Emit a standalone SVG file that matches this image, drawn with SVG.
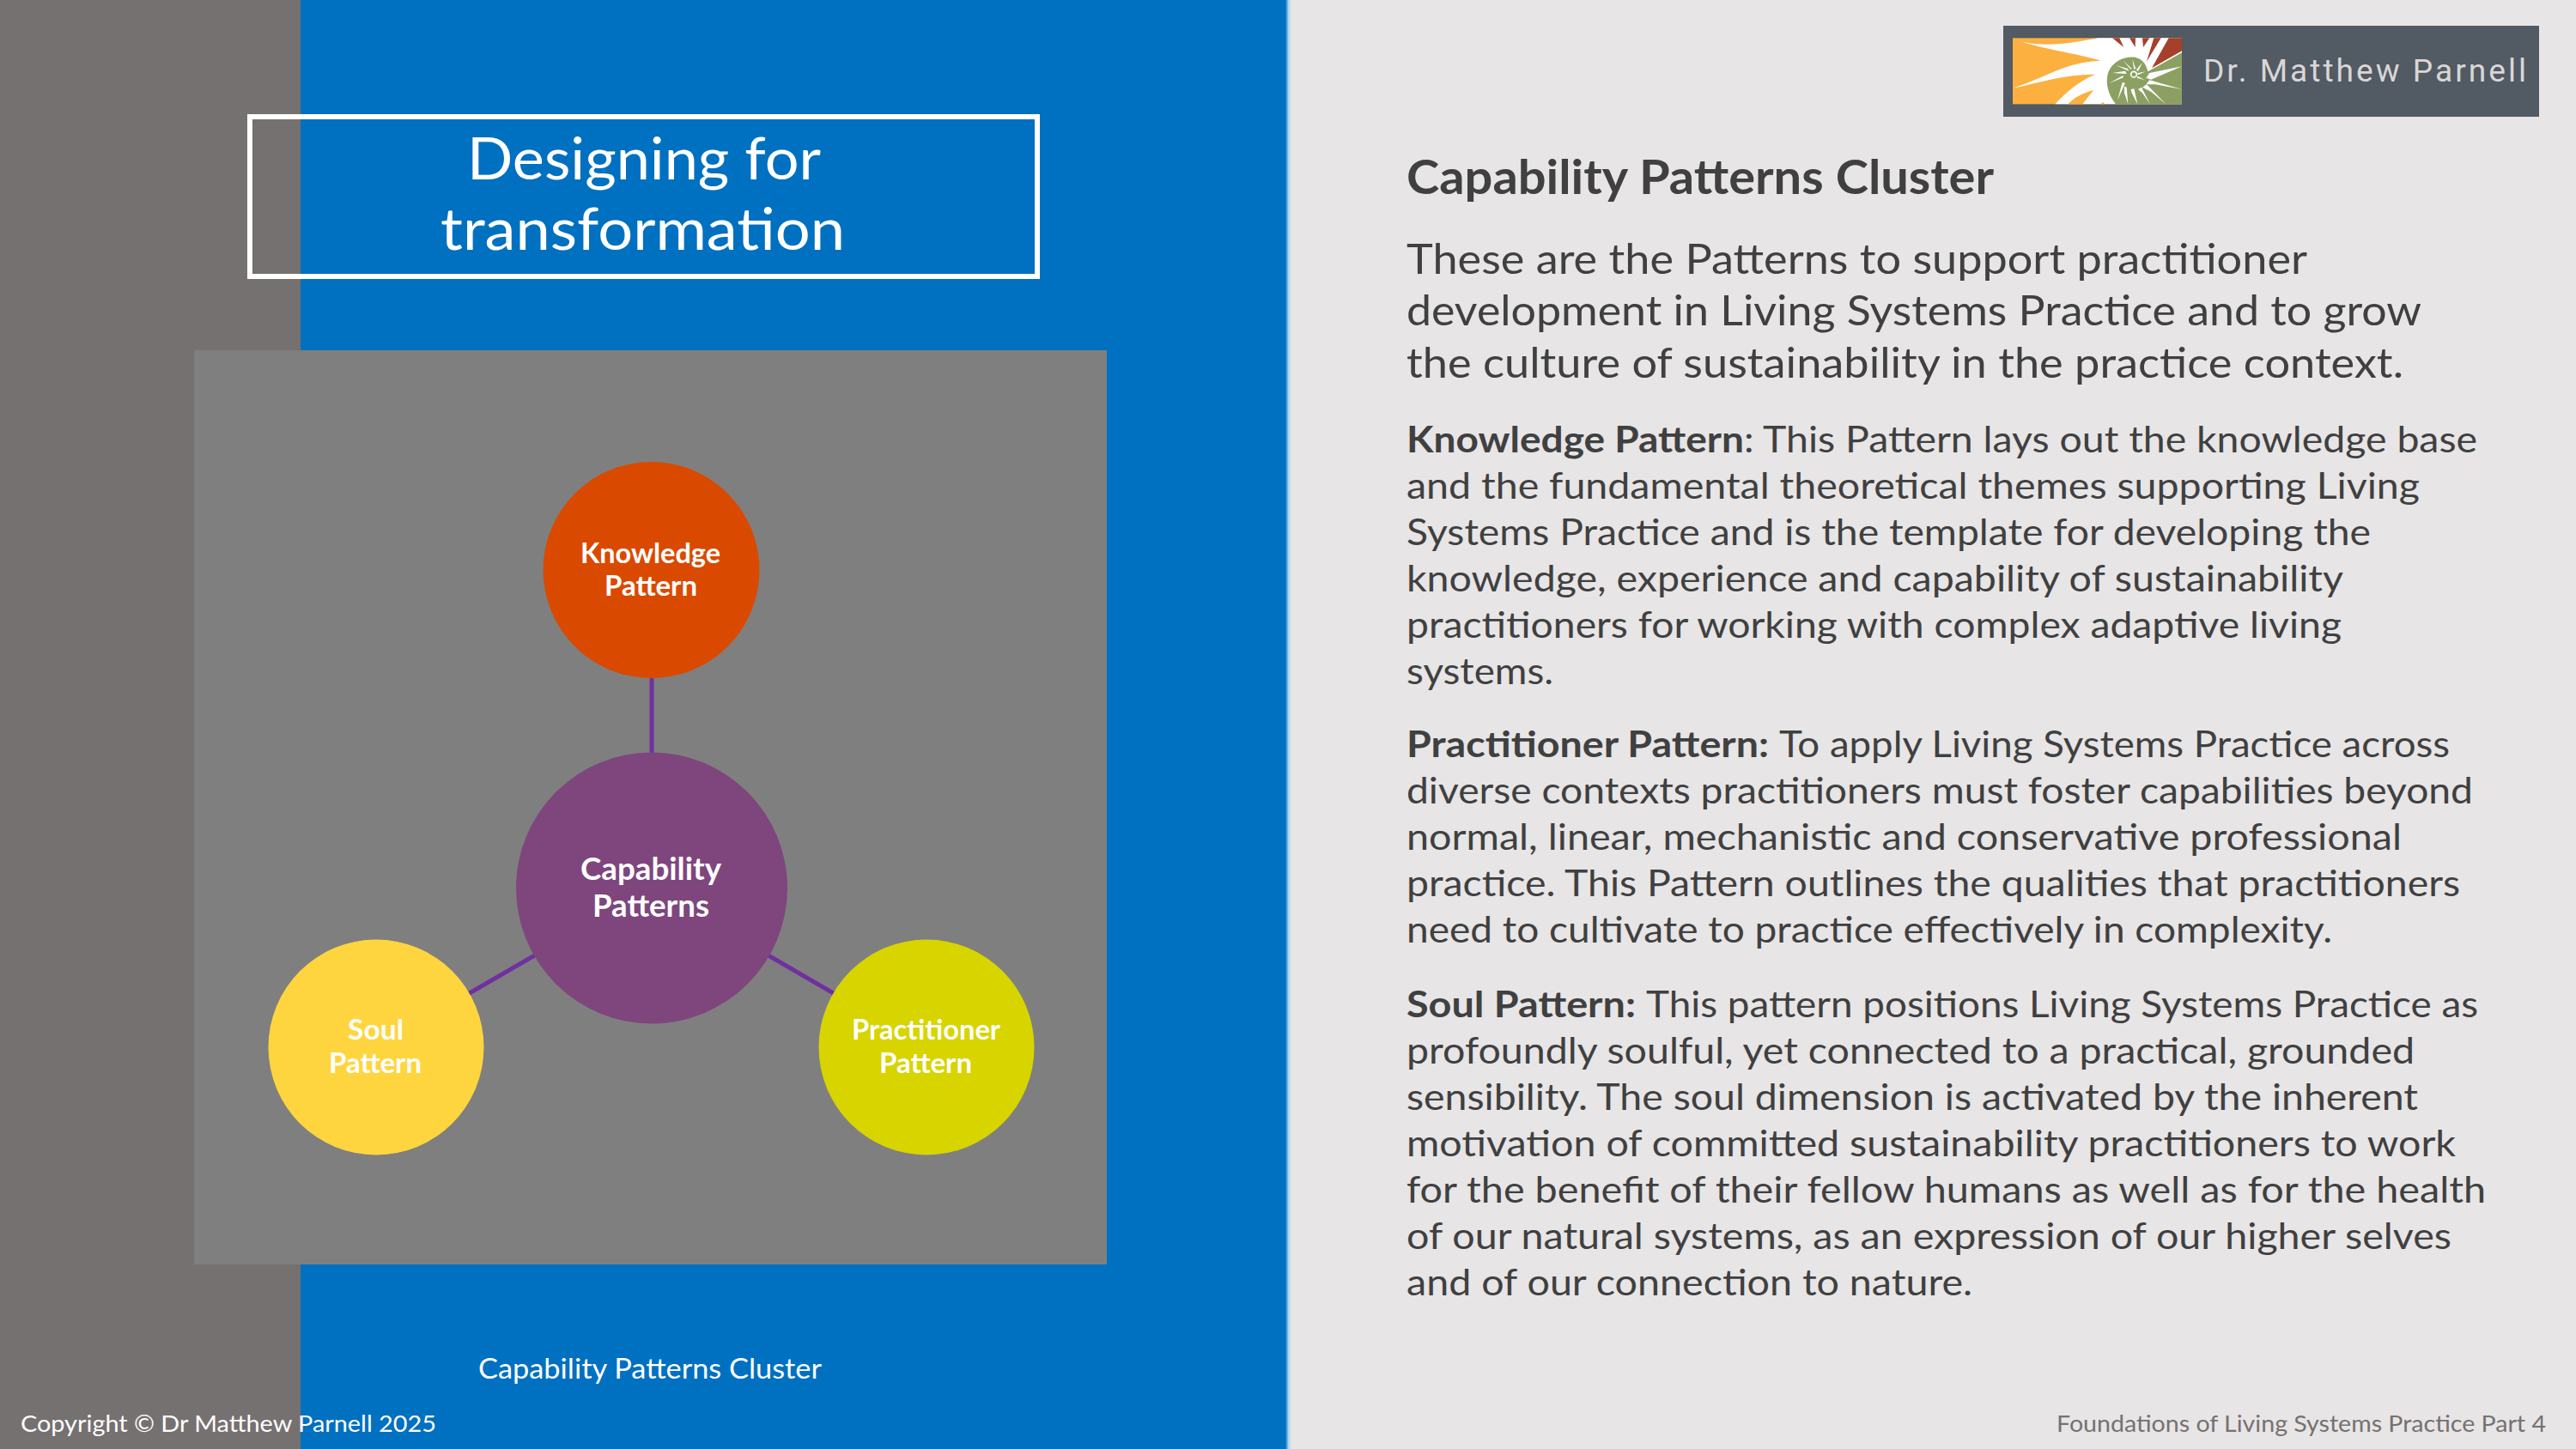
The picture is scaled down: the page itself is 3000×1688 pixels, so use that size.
<svg xmlns="http://www.w3.org/2000/svg" width="3000" height="1688" viewBox="0 0 3000 1688">
<style>
text{font-family:Lato,"Carlito","Open Sans",sans-serif;}
.w{fill:#fff}
.b{fill:#404040;font-size:42px}
.p{fill:#404040;font-size:48px}
.bd{font-weight:700}
.nl{fill:#fff;font-weight:700;font-size:33px}
.nc{fill:#fff;font-weight:700;font-size:36px}
.ft{font-size:27.500px}
.conn{stroke:#7030A0;stroke-width:5;fill:none}
</style>
<defs>
<linearGradient id="edge" x1="0" x2="1" y1="0" y2="0">
<stop offset="0" stop-color="#0070C0"/>
<stop offset=".5" stop-color="#A9D2EE"/>
<stop offset="1" stop-color="#E7E5E6"/>
</linearGradient>
</defs>
<g id="background">
<rect width="3000" height="1688" fill="#E7E5E6"/>
<rect x="350" width="1147" height="1688" fill="#0070C0"/>
<rect x="1497" width="7" height="1688" fill="url(#edge)"/>
<rect width="350" height="1688" fill="#767171"/>
</g>
<g id="title">
<rect x="291" y="136" width="917" height="186" fill="none" stroke="#fff" stroke-width="6"/>
<text class="w" x="544" y="209" font-size="68" textLength="412" lengthAdjust="spacingAndGlyphs">Designing for</text>
<text class="w" x="513" y="291" font-size="68" textLength="471" lengthAdjust="spacingAndGlyphs">transformation</text>
</g>
<rect id="panel" x="226" y="408" width="1063" height="1065" fill="#7F7F7F"/>
<g id="connectors">
<line class="conn" x1="759" y1="1034" x2="759" y2="664"/>
<line class="conn" x1="759" y1="1034" x2="438" y2="1220"/>
<line class="conn" x1="759" y1="1034" x2="1079" y2="1220"/>
</g>
<g id="node-knowledge">
<circle cx="758.500" cy="664" r="126" fill="#D94A00"/>
<text class="nl" x="676" y="656" textLength="163" lengthAdjust="spacingAndGlyphs">Knowledge</text>
<text class="nl" x="704" y="694" textLength="108" lengthAdjust="spacingAndGlyphs">Pattern</text>
</g>
<g id="node-capability">
<circle cx="759" cy="1034.500" r="158" fill="#7E467D"/>
<text class="nc" x="676" y="1025" textLength="164" lengthAdjust="spacingAndGlyphs">Capability</text>
<text class="nc" x="690" y="1068" textLength="136" lengthAdjust="spacingAndGlyphs">Patterns</text>
</g>
<g id="node-soul">
<circle cx="438" cy="1220" r="125.500" fill="#FFD53F"/>
<text class="nl" x="405" y="1211" textLength="65" lengthAdjust="spacingAndGlyphs">Soul</text>
<text class="nl" x="383" y="1250" textLength="108" lengthAdjust="spacingAndGlyphs">Pattern</text>
</g>
<g id="node-practitioner">
<circle cx="1079" cy="1220" r="125.500" fill="#D7D400"/>
<text class="nl" x="992" y="1211" textLength="173" lengthAdjust="spacingAndGlyphs">Practitioner</text>
<text class="nl" x="1024" y="1250" textLength="108" lengthAdjust="spacingAndGlyphs">Pattern</text>
</g>
<text class="w" x="557" y="1606" font-size="33" textLength="400" lengthAdjust="spacingAndGlyphs">Capability Patterns Cluster</text>
<text class="w ft" x="24" y="1668" textLength="484" lengthAdjust="spacingAndGlyphs">Copyright © Dr Matthew Parnell 2025</text>
<text class="ft" fill="#757171" x="2395" y="1668" textLength="570" lengthAdjust="spacingAndGlyphs">Foundations of Living Systems Practice Part 4</text>

<g id="logo">
<rect x="2333" y="30" width="624" height="106" fill="#525A63"/>
<g transform="translate(2340 40) scale(.33333)">
<rect x="12" y="13" width="591" height="231" fill="#FBB040"/>
<path fill="#fff" d="M25 18C100 50 230 30 310 13L603 13L603 244L160 244C200 200 250 160 300 140C200 138 100 170 12 188C130 150 200 95 320 92C230 65 100 50 25 18Z"/>
<path fill="#FBB040" d="M205 244C225 222 255 205 295 195C280 212 268 228 257 244ZM320 244L328 236L332 244Z"/>
<path fill="#A5402B" d="M360 13L400 45L385 13ZM420 13L440 45L441 13ZM465 13L468 45L490 13ZM505 13L530 13L480 95ZM557 13L603 13L603 58L498 118Z"/>
<path fill="#8DA063" d="M603 64L603 244L372 244C345 210 335 170 345 135C360 95 400 75 440 80C470 88 480 110 484 130L520 110Z"/>
<g fill="#fff">
<path d="M603 112L490 135L478 152L495 158Z"/>
<path d="M603 192L490 160L478 175L510 175Z"/>
<path d="M547 244L480 175L465 185L495 200Z"/>
<path d="M492 244L462 185L450 192L465 205Z"/>
<path d="M448 244L436 190L425 192L428 205Z"/>
<path d="M415 244L410 185L402 182L402 205Z"/>
<path d="M378 230L405 170L395 168Z"/>
<path d="M347 172L400 150L396 145Z"/>
<path d="M360 135L410 138L405 128Z"/>
<path d="M372 108L418 128L414 120Z"/>
<path d="M398 92L428 120L424 122Z"/>
<path d="M430 88L436 122L442 120Z"/>
<path d="M465 98L444 124L450 130Z"/>
<path d="M476 130L448 136L450 142Z"/>
<path d="M474 160L448 146L446 152Z"/>
</g>
<circle cx="435" cy="140" r="10" fill="none" stroke="#fff" stroke-width="5"/>
<circle cx="437" cy="141" r="4" fill="#8DA063"/>
</g>
<text x="2566" y="95" font-size="37" fill="#D9D6D6" letter-spacing="3" textLength="379" lengthAdjust="spacingAndGlyphs" style="font-family:Roboto,sans-serif">Dr. Matthew Parnell</text>
</g>

<g id="content">
<text class="bd" fill="#404040" font-size="56" x="1638" y="226" textLength="684" lengthAdjust="spacingAndGlyphs">Capability Patterns Cluster</text>
<text class="p" x="1638" y="319" textLength="1049" lengthAdjust="spacingAndGlyphs">These are the Patterns to support practitioner</text>
<text class="p" x="1638" y="379" textLength="1182" lengthAdjust="spacingAndGlyphs">development in Living Systems Practice and to grow</text>
<text class="p" x="1638" y="440" textLength="1161" lengthAdjust="spacingAndGlyphs">the culture of sustainability in the practice context.</text>

<text class="b bd" x="1638" y="527" textLength="393" lengthAdjust="spacingAndGlyphs">Knowledge Pattern</text>
<text class="b" x="2031" y="527" textLength="854" lengthAdjust="spacingAndGlyphs">: This Pattern lays out the knowledge base</text>
<text class="b" x="1638" y="581" textLength="1180" lengthAdjust="spacingAndGlyphs">and the fundamental theoretical themes supporting Living</text>
<text class="b" x="1638" y="635" textLength="1123" lengthAdjust="spacingAndGlyphs">Systems Practice and is the template for developing the</text>
<text class="b" x="1638" y="689" textLength="1091" lengthAdjust="spacingAndGlyphs">knowledge, experience and capability of sustainability</text>
<text class="b" x="1638" y="743" textLength="1089" lengthAdjust="spacingAndGlyphs">practitioners for working with complex adaptive living</text>
<text class="b" x="1638" y="797" textLength="171" lengthAdjust="spacingAndGlyphs">systems.</text>

<text class="b bd" x="1638" y="882" textLength="422" lengthAdjust="spacingAndGlyphs">Practitioner Pattern:</text>
<text class="b" x="2072" y="882" textLength="781" lengthAdjust="spacingAndGlyphs">To apply Living Systems Practice across</text>
<text class="b" x="1638" y="936" textLength="1242" lengthAdjust="spacingAndGlyphs">diverse contexts practitioners must foster capabilities beyond</text>
<text class="b" x="1638" y="990" textLength="1159" lengthAdjust="spacingAndGlyphs">normal, linear, mechanistic and conservative professional</text>
<text class="b" x="1638" y="1044" textLength="1227" lengthAdjust="spacingAndGlyphs">practice. This Pattern outlines the qualities that practitioners</text>
<text class="b" x="1638" y="1098" textLength="1078" lengthAdjust="spacingAndGlyphs">need to cultivate to practice effectively in complexity.</text>

<text class="b bd" x="1638" y="1185" textLength="267" lengthAdjust="spacingAndGlyphs">Soul Pattern:</text>
<text class="b" x="1917" y="1185" textLength="969" lengthAdjust="spacingAndGlyphs">This pattern positions Living Systems Practice as</text>
<text class="b" x="1638" y="1239" textLength="1174" lengthAdjust="spacingAndGlyphs">profoundly soulful, yet connected to a practical, grounded</text>
<text class="b" x="1638" y="1293" textLength="1178" lengthAdjust="spacingAndGlyphs">sensibility. The soul dimension is activated by the inherent</text>
<text class="b" x="1638" y="1347" textLength="1222" lengthAdjust="spacingAndGlyphs">motivation of committed sustainability practitioners to work</text>
<text class="b" x="1638" y="1401" textLength="1257" lengthAdjust="spacingAndGlyphs">for the benefit of their fellow humans as well as for the health</text>
<text class="b" x="1638" y="1455" textLength="1217" lengthAdjust="spacingAndGlyphs">of our natural systems, as an expression of our higher selves</text>
<text class="b" x="1638" y="1509" textLength="659" lengthAdjust="spacingAndGlyphs">and of our connection to nature.</text>
</g>
</svg>
